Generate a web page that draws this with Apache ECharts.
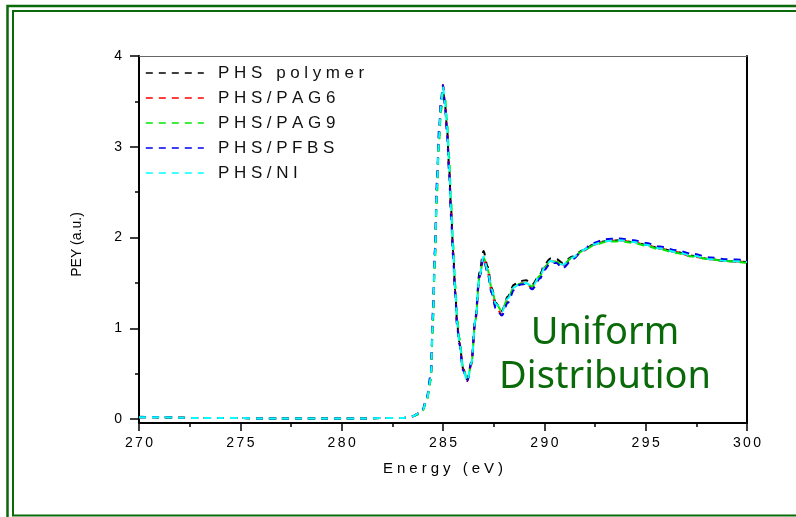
<!DOCTYPE html>
<html>
<head>
<meta charset="utf-8">
<script src="https://cdn.jsdelivr.net/npm/echarts@6/dist/echarts.min.js"></script>
<style>
  html, body { margin: 0; padding: 0; background: #fff; }
  #main { width: 796px; height: 517px; }
</style>
</head>
<body>
<div id="main"></div>
<script>
// photon energy grid (eV), shared by all spectra
var energy = [270, 271, 272, 273, 274, 275, 276, 277, 278, 279, 280, 281, 282, 283,
  283.5, 283.8, 284.0, 284.2, 284.4, 284.5, 284.6, 284.7, 284.8, 284.9,
  285.0, 285.1, 285.2, 285.3, 285.4, 285.5, 285.6, 285.7, 285.8,
  286.0, 286.2, 286.4, 286.6, 286.8,
  287.0, 287.2, 287.4, 287.6, 287.9,
  288.2, 288.5, 288.8, 289.1, 289.4, 289.8,
  290.0, 290.3, 290.6, 290.9,
  291.4, 291.9, 292.4, 293.0, 293.7, 294.4, 295.0, 295.7, 296.5, 297.3, 298.2, 299.0, 300];

var phsPolymer = [0.025, 0.02, 0.015, 0.01, 0.01, 0.01, 0.005, 0.005, 0.005, 0.005, 0.005, 0.005, 0.01, 0.01,
  0.03, 0.06, 0.10, 0.22, 0.45, 1.10, 1.80, 2.55, 3.10, 3.42,
  3.62, 3.46, 3.20, 2.78, 2.30, 1.85, 1.42, 1.05, 0.85,
  0.55, 0.43, 0.63, 1.12, 1.62,
  1.85, 1.68, 1.45, 1.28, 1.19,
  1.35, 1.48, 1.52, 1.53, 1.48, 1.60,
  1.70, 1.77, 1.76, 1.72,
  1.79, 1.86, 1.92, 1.96, 1.97, 1.95, 1.92, 1.88, 1.84, 1.80, 1.76, 1.74, 1.73];

var phsPag6 = [0.02, 0.02, 0.015, 0.01, 0.01, 0.01, 0.005, 0.005, 0.005, 0.005, 0.005, 0.005, 0.01, 0.01,
  0.03, 0.06, 0.10, 0.22, 0.45, 1.10, 1.80, 2.55, 3.10, 3.46,
  3.68, 3.48, 3.20, 2.78, 2.28, 1.83, 1.40, 1.04, 0.84,
  0.54, 0.42, 0.60, 1.08, 1.56,
  1.78, 1.62, 1.40, 1.24, 1.15,
  1.31, 1.44, 1.49, 1.50, 1.44, 1.57,
  1.67, 1.74, 1.73, 1.69,
  1.77, 1.85, 1.92, 1.96, 1.97, 1.95, 1.92, 1.88, 1.84, 1.79, 1.76, 1.74, 1.73];

var phsPag9 = [0.02, 0.02, 0.015, 0.01, 0.01, 0.01, 0.005, 0.005, 0.005, 0.005, 0.005, 0.005, 0.01, 0.01,
  0.03, 0.05, 0.09, 0.20, 0.42, 1.02, 1.72, 2.45, 3.02, 3.38,
  3.58, 3.54, 3.30, 2.90, 2.40, 1.94, 1.50, 1.12, 0.90,
  0.57, 0.43, 0.60, 1.08, 1.56,
  1.78, 1.65, 1.44, 1.28, 1.19,
  1.33, 1.45, 1.49, 1.50, 1.46, 1.58,
  1.67, 1.74, 1.73, 1.70,
  1.78, 1.85, 1.91, 1.95, 1.96, 1.94, 1.91, 1.87, 1.83, 1.79, 1.76, 1.74, 1.72];

var phsPfbs = [0.02, 0.02, 0.015, 0.01, 0.01, 0.01, 0.005, 0.005, 0.005, 0.005, 0.005, 0.005, 0.01, 0.01,
  0.03, 0.06, 0.11, 0.24, 0.50, 1.18, 1.88, 2.62, 3.18, 3.52,
  3.68, 3.44, 3.14, 2.72, 2.22, 1.78, 1.38, 1.02, 0.83,
  0.53, 0.42, 0.62, 1.10, 1.57,
  1.77, 1.61, 1.39, 1.22, 1.14,
  1.28, 1.42, 1.48, 1.49, 1.43, 1.55,
  1.64, 1.72, 1.72, 1.66,
  1.76, 1.86, 1.94, 1.98, 1.99, 1.97, 1.94, 1.90, 1.86, 1.82, 1.78, 1.76, 1.75];

var phsNi = [0.02, 0.02, 0.015, 0.01, 0.01, 0.01, 0.005, 0.005, 0.005, 0.005, 0.005, 0.005, 0.01, 0.01,
  0.03, 0.06, 0.10, 0.22, 0.45, 1.10, 1.80, 2.55, 3.10, 3.45,
  3.66, 3.48, 3.22, 2.80, 2.30, 1.85, 1.42, 1.05, 0.85,
  0.54, 0.42, 0.62, 1.10, 1.58,
  1.79, 1.64, 1.43, 1.27, 1.18,
  1.33, 1.45, 1.49, 1.50, 1.46, 1.58,
  1.67, 1.74, 1.73, 1.70,
  1.78, 1.86, 1.92, 1.96, 1.97, 1.95, 1.92, 1.88, 1.84, 1.80, 1.76, 1.74, 1.73];

var seriesNames = ['PHS polymer', 'PHS/PAG6', 'PHS/PAG9', 'PHS/PFBS', 'PHS/NI'];
var seriesValues = [phsPolymer, phsPag6, phsPag9, phsPfbs, phsNi];
var seriesColors = ['#000000', '#ff0000', '#00e600', '#0000ee', '#00ffff'];

var yLabels = [0, 1, 2, 3, 4];
var yMinor = [0.5, 1.5, 2.5, 3.5];

var green = '#0a6a0a';
var font = 'Liberation Sans';

// spread letters out a bit like the original export
function spaced(str) {
  return String(str).split('').map(function (c) { return '{s|' + c + '}'; }).join('');
}

var chart = echarts.init(document.getElementById('main'));

var series = seriesNames.map(function (name, k) {
  return {
    name: name,
    type: 'line',
    symbol: 'none',
    smooth: 0.3,
    smoothMonotone: 'x',
    color: seriesColors[k],
    lineStyle: { width: 2, type: [7, 6], color: seriesColors[k] },
    data: energy.map(function (e, i) { return [e, seriesValues[k][i]]; })
  };
});

option = {
  backgroundColor: '#fff',
  animation: false,
  textStyle: { fontFamily: font },
  grid: { left: 139, right: 49, top: 56, bottom: 94 },
  legend: {
    orient: 'vertical',
    left: 145,
    top: 63,
    padding: 0,
    itemWidth: 58,
    itemHeight: 12,
    itemGap: 5,
    data: seriesNames,
    itemStyle: { opacity: 0 },
    lineStyle: { width: 1.6 },
    formatter: function (n) { return spaced(n); },
    textStyle: {
      fontSize: 17,
      color: '#111',
      lineHeight: 20,
      padding: [0, 0, 0, 7],
      rich: { s: { fontSize: 17, fontFamily: font, color: '#111', padding: [0, 2.3, 0, 2.3] } }
    }
  },
  xAxis: [{
    type: 'value',
    min: 270,
    max: 300,
    interval: 5,
    position: 'bottom',
    name: spaced('Energy (eV)'),
    nameLocation: 'middle',
    nameGap: 38,
    nameTextStyle: {
      fontSize: 15, color: '#000',
      rich: { s: { fontSize: 15, fontFamily: font, color: '#000', padding: [0, 2, 0, 2] } }
    },
    axisLine: { show: true, onZero: false, lineStyle: { color: '#000', width: 2 } },
    axisTick: { show: true, length: 8, lineStyle: { color: '#000', width: 1.5 } },
    minorTick: { show: true, splitNumber: 2, length: 4, lineStyle: { color: '#000', width: 1.5 } },
    axisLabel: {
      margin: 13, fontSize: 14, color: '#000',
      formatter: function (v) { return spaced(v); },
      rich: { s: { fontSize: 14, fontFamily: font, color: '#000', padding: [0, 1.2, 0, 1.2] } }
    },
    splitLine: { show: false }
  }, {
    type: 'value',
    min: 270,
    max: 300,
    position: 'top',
    axisLine: { show: true, onZero: false, lineStyle: { color: '#666', width: 1 } },
    axisTick: { show: false },
    axisLabel: { show: false },
    splitLine: { show: false }
  }],
  yAxis: [{
    type: 'value',
    min: -0.044,
    max: 4,
    position: 'left',
    name: 'PEY (a.u.)',
    nameLocation: 'middle',
    nameGap: 55,
    nameTextStyle: { fontSize: 14, color: '#000', padding: [0, 10, 0, 0] },
    axisLine: { show: true, onZero: false, lineStyle: { color: '#000', width: 2 } },
    axisTick: { show: true, length: 9, customValues: yLabels, lineStyle: { color: '#000', width: 1.5 } },
    axisLabel: { margin: 17, fontSize: 14, color: '#000', customValues: yLabels },
    splitLine: { show: false }
  }, {
    type: 'value',
    min: -0.044,
    max: 4,
    position: 'left',
    axisLine: { show: false },
    axisTick: { show: true, length: 4, customValues: yMinor, lineStyle: { color: '#000', width: 1.5 } },
    axisLabel: { show: false },
    splitLine: { show: false }
  }, {
    type: 'value',
    min: -0.044,
    max: 4,
    position: 'right',
    axisLine: { show: true, onZero: false, lineStyle: { color: '#000', width: 2 } },
    axisTick: { show: false },
    axisLabel: { show: false },
    splitLine: { show: false }
  }],
  graphic: [
    { type: 'rect', silent: true, shape: { x: 7.5, y: 6, width: 900, height: 520 },
      style: { fill: null, stroke: green, lineWidth: 2.5 } },
    { type: 'rect', silent: true, shape: { x: 13, y: 11, width: 900, height: 504.5 },
      style: { fill: null, stroke: green, lineWidth: 2 } },
    { type: 'text', silent: true, x: 605, y: 333,
      style: { text: 'Uniform', fill: green, font: '38px "Noto Sans"', align: 'center', verticalAlign: 'middle' } },
    { type: 'text', silent: true, x: 605, y: 377,
      style: { text: 'Distribution', fill: green, font: '38px "Noto Sans"', align: 'center', verticalAlign: 'middle' } }
  ],
  series: series
};

chart.setOption(option);
</script>
</body>
</html>
